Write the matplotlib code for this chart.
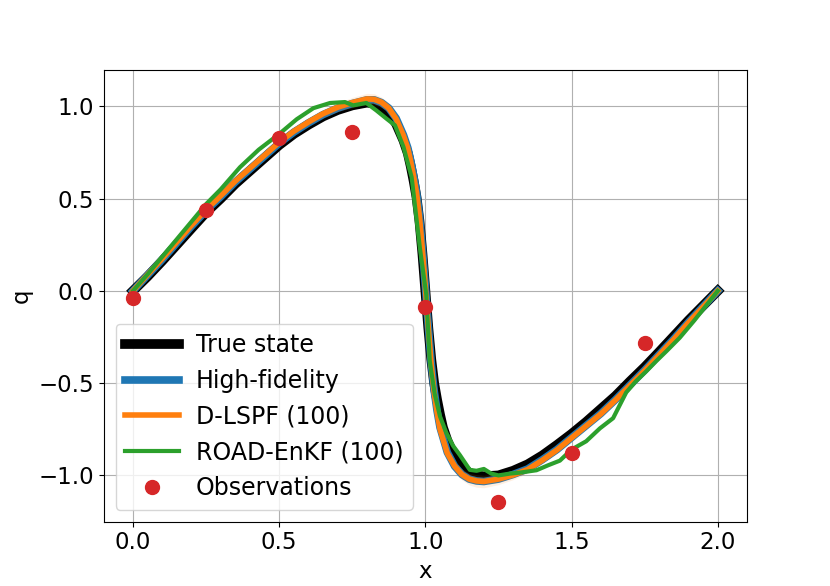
import matplotlib
matplotlib.use("Agg")
from matplotlib import pyplot as plt

plt.rcParams['font.size'] = 16.5

# observations
obs_x = [0.0, 0.25, 0.5, 0.75, 1.0, 1.25, 1.5, 1.75]
obs_q = [-0.04, 0.44, 0.83, 0.86, -0.09, -1.145, -0.88, -0.285]

# true state
true_x = [0.0, 0.05, 0.1, 0.15, 0.2, 0.25, 0.3, 0.35, 0.4, 0.45, 0.5, 0.55, 0.6, 0.65,
          0.7, 0.75, 0.8, 0.825, 0.85, 0.875, 0.9, 0.925, 0.94, 0.95, 0.96, 0.97, 0.98,
          0.99, 1.0, 1.01, 1.02, 1.03, 1.04, 1.05, 1.06, 1.075, 1.1, 1.125, 1.15, 1.175,
          1.2, 1.25, 1.3, 1.35, 1.4, 1.45, 1.5, 1.55, 1.6, 1.65, 1.7, 1.75, 1.8, 1.85,
          1.9, 1.95, 2.0]
true_q = [0.0, 0.078, 0.162, 0.25, 0.338, 0.425, 0.50, 0.58, 0.65, 0.72, 0.79, 0.85, 0.90,
          0.945, 0.98, 1.005, 1.02, 1.015, 0.995, 0.965, 0.905, 0.815, 0.745, 0.675, 0.595,
          0.505, 0.375, 0.20, 0.0, -0.20, -0.37, -0.50, -0.59, -0.67, -0.74, -0.81, -0.90,
          -0.955, -0.985, -1.0, -1.005, -1.0, -0.975, -0.94, -0.892, -0.835, -0.775,
          -0.71, -0.64, -0.57, -0.49, -0.413, -0.33, -0.245, -0.16, -0.08, 0.0]

# high-fidelity and D-LSPF (100)
hf_x = [0.0, 0.05, 0.1, 0.15, 0.2, 0.25, 0.3, 0.35, 0.4, 0.45, 0.5, 0.55, 0.6, 0.65,
        0.7, 0.75, 0.8, 0.825, 0.85, 0.875, 0.9, 0.925, 0.94, 0.95, 0.96, 0.97, 0.98,
        0.99, 1.0, 1.01, 1.02, 1.03, 1.04, 1.05, 1.075, 1.1, 1.125, 1.15, 1.175, 1.2,
        1.25, 1.3, 1.35, 1.4, 1.45, 1.5, 1.55, 1.6, 1.65, 1.7, 1.75, 1.8, 1.85, 1.9,
        1.95, 2.0]
hf_q = [0.0, 0.085, 0.17, 0.26, 0.35, 0.435, 0.51, 0.59, 0.66, 0.73, 0.80, 0.86, 0.91,
        0.955, 0.99, 1.015, 1.035, 1.035, 1.02, 0.99, 0.935, 0.845, 0.775, 0.705, 0.625,
        0.535, 0.405, 0.225, 0.025, -0.19, -0.39, -0.54, -0.65, -0.74, -0.875, -0.95,
        -0.995, -1.02, -1.03, -1.033, -1.02, -0.995, -0.965, -0.915, -0.86, -0.795,
        -0.73, -0.665, -0.59, -0.51, -0.43, -0.345, -0.26, -0.17, -0.085, 0.0]
dlspf_q = [0.0, 0.088, 0.175, 0.265, 0.355, 0.44, 0.515, 0.595, 0.665, 0.735, 0.805,
           0.865, 0.915, 0.96, 0.995, 1.02, 1.04, 1.038, 1.022, 0.99, 0.932, 0.842, 0.772,
           0.70, 0.62, 0.53, 0.40, 0.22, 0.02, -0.20, -0.40, -0.55, -0.66, -0.75, -0.88,
           -0.95, -0.995, -1.02, -1.03, -1.033, -1.02, -0.998, -0.968, -0.918, -0.862,
           -0.797, -0.732, -0.667, -0.592, -0.512, -0.432, -0.347, -0.262, -0.172,
           -0.087, 0.0]
dlspf_std = [0.01, 0.01, 0.01, 0.01, 0.01, 0.01, 0.01, 0.01, 0.01, 0.012, 0.014, 0.016,
             0.018, 0.02, 0.024, 0.028, 0.03, 0.03, 0.028, 0.025, 0.022, 0.02, 0.02, 0.02,
             0.02, 0.02, 0.02, 0.02, 0.02, 0.02, 0.02, 0.02, 0.02, 0.022, 0.025, 0.028,
             0.03, 0.032, 0.034, 0.034, 0.03, 0.025, 0.02, 0.016, 0.014, 0.012, 0.01, 0.01,
             0.01, 0.01, 0.01, 0.01, 0.01, 0.01, 0.01, 0.01]

# ROAD-EnKF (100)
road_x = [0.0, 0.05, 0.1, 0.15, 0.2, 0.25, 0.3, 0.366, 0.43, 0.5, 0.56, 0.617, 0.674,
          0.725, 0.753, 0.798, 0.832, 0.867, 0.896, 0.925, 0.953, 0.981, 1.003, 1.015,
          1.032, 1.05, 1.072, 1.095, 1.118, 1.152, 1.175, 1.2, 1.225, 1.25, 1.29, 1.323,
          1.38, 1.42, 1.46, 1.5, 1.55, 1.597, 1.642, 1.687, 1.72, 1.756, 1.79, 1.825,
          1.87, 1.92, 1.96, 2.0]
road_q = [0.0, 0.09, 0.185, 0.28, 0.375, 0.47, 0.55, 0.67, 0.765, 0.85, 0.93, 0.99,
          1.018, 1.023, 1.005, 1.018, 0.978, 0.933, 0.897, 0.78, 0.616, 0.235, -0.02,
          -0.38, -0.56, -0.68, -0.77, -0.84, -0.89, -0.97, -0.975, -0.965, -0.99, -1.0,
          -0.99, -0.985, -0.972, -0.945, -0.92, -0.86, -0.815, -0.745, -0.69, -0.55,
          -0.49, -0.435, -0.38, -0.326, -0.254, -0.16, -0.08, 0.0]

fig, ax = plt.subplots(figsize=(8.3, 5.86), dpi=100)
ax.plot(true_x, true_q, color="black", lw=7, label="True state", zorder=2)
ax.plot(hf_x, hf_q, color="C0", lw=5.5, label="High-fidelity", zorder=3)
lo = [m - s for m, s in zip(dlspf_q, dlspf_std)]
hi = [m + s for m, s in zip(dlspf_q, dlspf_std)]
ax.fill_between(hf_x, lo, hi, color="C1", alpha=0.12, lw=0, zorder=3)
ax.plot(hf_x, dlspf_q, color="C1", lw=4, label="D-LSPF (100)", zorder=4)
ax.plot(road_x, road_q, color="C2", lw=3, label="ROAD-EnKF (100)", zorder=5)
ax.plot(obs_x, obs_q, "o", color="C3", markersize=10, label="Observations", zorder=6)

ax.set_xlim(-0.1, 2.1)
ax.set_ylim(-1.25, 1.195)
ax.set_xticks([0.0, 0.5, 1.0, 1.5, 2.0])
ax.set_xlabel("x")
ax.set_ylabel("q")
ax.grid(True)
ax.legend(loc="lower left", fontsize=17, handlelength=2.3, handletextpad=0.7,
          labelspacing=0.5)

fig.savefig("out.png")
